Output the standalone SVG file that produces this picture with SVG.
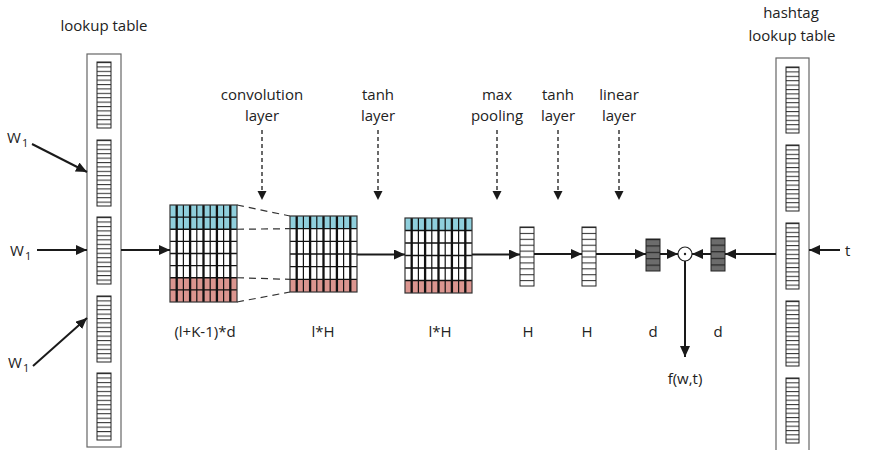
<svg xmlns="http://www.w3.org/2000/svg" width="876" height="450" viewBox="0 0 876 450">
<defs>
<style>
text{font-family:"Open Sans","Liberation Sans",sans-serif;font-size:15px;fill:#222}
.mid{text-anchor:middle}
.sub{font-size:11px}
.box{fill:#fff;stroke:#666;stroke-width:1.2}
.cell{fill:url(#s15);stroke:#222;stroke-width:1}
.hv{fill:url(#s10);stroke:#222;stroke-width:1}
.dv{fill:#6c6c6c;stroke:#222;stroke-width:1}
.dvs{fill:url(#s5)}
.con{stroke:#1a1a1a;stroke-width:2;fill:none}
.dash{stroke:#1a1a1a;stroke-width:1.3;stroke-dasharray:4 3;fill:none}
.dl{stroke:#333;stroke-width:1.2;stroke-dasharray:7 5;fill:none}
.thick{stroke:#111;stroke-width:2.3;fill:none}
.thin{stroke:#111;stroke-width:1.2;fill:none}
.hl{stroke:#111;stroke-width:1.4;fill:none}
.blue{fill:#8fcfdc}
.red{fill:#db958f}
.frame{fill:none;stroke:#333;stroke-width:1.2}
</style>
<pattern id="s15" patternUnits="objectBoundingBox" width="1" height="0.0666667" patternContentUnits="objectBoundingBox">
<rect x="0" y="0" width="1" height="1" fill="#fff"/>
<rect x="0" y="0" width="1" height="0.016" fill="#333"/>
</pattern>
<pattern id="s10" patternUnits="objectBoundingBox" width="1" height="0.1" patternContentUnits="objectBoundingBox">
<rect x="0" y="0" width="1" height="1" fill="#fff"/>
<rect x="0" y="0" width="1" height="0.018" fill="#333"/>
</pattern>
<pattern id="s5" patternUnits="objectBoundingBox" width="1" height="0.2" patternContentUnits="objectBoundingBox">
<rect x="0" y="0" width="1" height="0.035" fill="#222"/>
</pattern>
<marker id="ah" markerUnits="userSpaceOnUse" markerWidth="12" markerHeight="10" refX="11" refY="5" orient="auto">
<path d="M0,0 L11,5 L0,10 Z" fill="#1a1a1a"/>
</marker>
<marker id="ahs" markerUnits="userSpaceOnUse" markerWidth="10" markerHeight="10" refX="9" refY="4.5" orient="auto">
<path d="M0,0 L9,4.5 L0,9 Z" fill="#1a1a1a"/>
</marker>
</defs>
<rect width="876" height="450" fill="#fff"/>

<g id="lookup-table">
<text class="mid" x="104" y="31">lookup table</text>
<rect class="box" x="87" y="54" width="34" height="393"/>
<rect class="cell" x="97" y="62" width="14" height="66"/>
<rect class="cell" x="97" y="140" width="14" height="66"/>
<rect class="cell" x="97" y="217" width="14" height="67"/>
<rect class="cell" x="97" y="296" width="14" height="66"/>
<rect class="cell" x="97" y="373" width="14" height="67"/>
</g>

<g id="w1-labels">
<text x="7" y="143" font-size="16">W</text><text class="sub" x="22" y="147">1</text>
<text x="10" y="256" font-size="16">W</text><text class="sub" x="25" y="260">1</text>
<text x="8" y="368" font-size="16">W</text><text class="sub" x="23" y="372">1</text>
</g>

<g id="conv-input">
<rect class="blue" x="170" y="205" width="67" height="24.25"/>
<rect x="170" y="229.25" width="67" height="48.5" fill="#fff"/>
<rect class="red" x="170" y="277.75" width="67" height="24.25"/>
<path class="hl" d="M170,217.1H237M170,229.25H237M170,241.4H237M170,253.5H237M170,265.6H237M170,277.75H237M170,289.9H237"/>
<path class="thick" d="M176.7,205V302M190.1,205V302M203.5,205V302M216.9,205V302M230.3,205V302"/>
<path class="thin" d="M183.4,205V302M196.8,205V302M210.2,205V302M223.6,205V302"/>
<rect class="frame" x="170" y="205" width="67" height="97"/>
<text class="mid" x="205" y="337">(l+K-1)*d</text>
</g>

<g id="conv-output">
<rect class="blue" x="290" y="216" width="67" height="12.67"/>
<rect x="290" y="228.67" width="67" height="50.66" fill="#fff"/>
<rect class="red" x="290" y="279.33" width="67" height="12.67"/>
<path class="hl" d="M290,228.67H357M290,241.33H357M290,254H357M290,266.67H357M290,279.33H357"/>
<path class="thick" d="M296.7,216V292M310.1,216V292M323.5,216V292M336.9,216V292M350.3,216V292"/>
<path class="thin" d="M303.4,216V292M316.8,216V292M330.2,216V292M343.6,216V292"/>
<rect class="frame" x="290" y="216" width="67" height="76"/>
<text class="mid" x="323" y="337">l*H</text>
</g>

<g id="tanh-output">
<rect class="blue" x="405" y="218" width="67" height="12.5"/>
<rect x="405" y="230.5" width="67" height="50" fill="#fff"/>
<rect class="red" x="405" y="280.5" width="67" height="12.5"/>
<path class="hl" d="M405,230.5H472M405,243H472M405,255.5H472M405,268H472M405,280.5H472"/>
<path class="thick" d="M411.7,218V293M425.1,218V293M438.5,218V293M451.9,218V293M465.3,218V293"/>
<path class="thin" d="M418.4,218V293M431.8,218V293M445.2,218V293M458.6,218V293"/>
<rect class="frame" x="405" y="218" width="67" height="75"/>
<text class="mid" x="440" y="337">l*H</text>
</g>

<g id="maxpool-vector">
<rect class="hv" x="520" y="227" width="14" height="59"/>
<text class="mid" x="528" y="337">H</text>
</g>

<g id="tanh-vector">
<rect class="hv" x="582" y="227" width="14" height="59"/>
<text class="mid" x="587" y="337">H</text>
</g>

<g id="linear-vector">
<rect class="dv" x="646" y="239" width="14" height="32"/>
<rect class="dvs" x="646" y="239" width="14" height="32"/>
<text class="mid" x="653" y="337">d</text>
</g>

<g id="hashtag-vector">
<rect class="dv" x="711" y="238" width="14" height="33"/>
<rect class="dvs" x="711" y="238" width="14" height="33"/>
<text class="mid" x="718" y="337">d</text>
</g>

<g id="dot-product">
<circle cx="685" cy="254" r="7" fill="#fff" stroke="#222" stroke-width="1.2"/>
<circle cx="685" cy="254" r="1.2" fill="#222"/>
<text class="mid" x="685" y="384">f(w,t)</text>
</g>

<g id="hashtag-lookup-table">
<text class="mid" x="791" y="18">hashtag</text>
<text class="mid" x="792" y="41">lookup table</text>
<rect class="box" x="776" y="58" width="33" height="400"/>
<rect class="cell" x="786" y="67" width="13" height="66"/>
<rect class="cell" x="786" y="145" width="13" height="66"/>
<rect class="cell" x="786" y="223" width="13" height="66"/>
<rect class="cell" x="786" y="301" width="13" height="65"/>
<rect class="cell" x="786" y="378" width="13" height="65"/>
<text x="845" y="256">t</text>
</g>

<g id="layer-labels">
<text class="mid" x="262" y="100">convolution</text>
<text class="mid" x="262" y="121">layer</text>
<text class="mid" x="378" y="100">tanh</text>
<text class="mid" x="378" y="121">layer</text>
<text class="mid" x="497" y="100">max</text>
<text class="mid" x="497" y="121">pooling</text>
<text class="mid" x="558" y="100">tanh</text>
<text class="mid" x="558" y="121">layer</text>
<text class="mid" x="619" y="100">linear</text>
<text class="mid" x="619" y="121">layer</text>
</g>

<g id="connectors">
<line class="con" x1="32" y1="144" x2="87" y2="172" marker-end="url(#ah)"/>
<line class="con" x1="37" y1="250" x2="87" y2="250" marker-end="url(#ah)"/>
<line class="con" x1="33" y1="366" x2="87" y2="318" marker-end="url(#ah)"/>
<line class="con" x1="121" y1="250" x2="170" y2="250" marker-end="url(#ah)"/>
<line class="dl" x1="237" y1="205" x2="290" y2="216"/>
<line class="dl" x1="237" y1="229.25" x2="290" y2="228.67"/>
<line class="dl" x1="237" y1="277.75" x2="290" y2="279.33"/>
<line class="dl" x1="237" y1="302" x2="290" y2="292"/>
<line class="con" x1="357" y1="254.5" x2="405" y2="254.5" marker-end="url(#ah)"/>
<line class="con" x1="472" y1="254.5" x2="520" y2="254.5" marker-end="url(#ah)"/>
<line class="con" x1="534" y1="254" x2="582" y2="254" marker-end="url(#ah)"/>
<line class="con" x1="596" y1="254" x2="646" y2="254" marker-end="url(#ah)"/>
<line class="con" x1="660" y1="254" x2="678" y2="254" marker-end="url(#ah)"/>
<line class="con" x1="711" y1="254" x2="692" y2="254" marker-end="url(#ah)"/>
<line class="con" x1="776" y1="254" x2="725" y2="254" marker-end="url(#ah)"/>
<line class="con" x1="685" y1="261" x2="685" y2="357" marker-end="url(#ah)"/>
<line class="con" x1="840" y1="250" x2="809" y2="250" marker-end="url(#ah)"/>
<line class="dash" x1="262" y1="130" x2="262" y2="200" marker-end="url(#ahs)"/>
<line class="dash" x1="378" y1="130" x2="378" y2="200" marker-end="url(#ahs)"/>
<line class="dash" x1="497" y1="130" x2="497" y2="200" marker-end="url(#ahs)"/>
<line class="dash" x1="558" y1="130" x2="558" y2="200" marker-end="url(#ahs)"/>
<line class="dash" x1="619" y1="130" x2="619" y2="200" marker-end="url(#ahs)"/>
</g>
</svg>
